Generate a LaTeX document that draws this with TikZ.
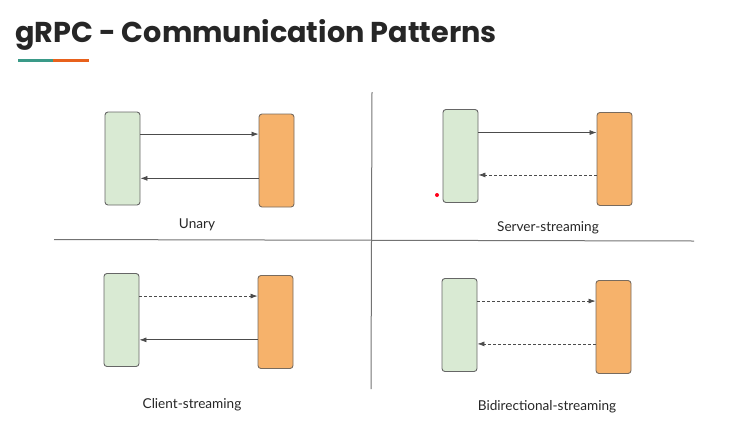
\documentclass[tikz,border=0pt]{standalone}
\usepackage{fontspec}
\setmainfont{Lato}
\newfontfamily\titlefont{Poppins}
\usetikzlibrary{calc,arrows.meta}
\definecolor{clientfill}{HTML}{D9EAD3}
\definecolor{serverfill}{HTML}{F6B26B}
\definecolor{boxline}{HTML}{666666}
\definecolor{teal}{HTML}{3A9A88}
\definecolor{rust}{HTML}{E8611C}
\tikzset{
  client/.style={draw=boxline, fill=clientfill, rounded corners=3pt, line width=0.9pt,
    minimum width=35pt, minimum height=93pt, inner sep=0pt},
  server/.style={client, fill=serverfill, draw=boxline!80!brown},
  call/.style={-{Latex[length=7pt,width=5pt]}, line width=0.7pt, draw=black!70},
  stream/.style={call, dash pattern=on 3pt off 2pt},
  pattern label/.style={font=\fontsize{13.6}{15}\selectfont, text=black!85},
  divider/.style={line width=1pt, draw=black!55}
}
\begin{document}
\begin{tikzpicture}[x=1pt, y=-1pt, line cap=butt]

  \useasboundingbox (0,0) rectangle (744,429);

  % title
  \node[anchor=base west, inner sep=0pt, font=\titlefont\bfseries\fontsize{28.7}{32}\selectfont, text=black!85] (title) at (15,42) {gRPC - Communication Patterns};
  \draw[teal, line width=3.5pt] (18,60.5) -- (53,60.5);
  \draw[rust, line width=3.5pt] (53,60.5) -- (89,60.5);

  % quadrant dividers
  \coordinate (hl) at (54,239.5);
  \coordinate (hr) at (694,241);
  \coordinate (vt) at (372,92);
  \coordinate (vb) at (371,389);
  \draw[divider] (hl) -- (hr);
  \draw[divider] (vt) -- (vb);

  % ---- unary ----
  \node[client] (cu) at (122.5,158.5) {};
  \node[server] (su) at (276.5,160.5) {};
  \coordinate (u1) at ($(cu.north east)!0.24!(cu.south east)$);
  \coordinate (u2) at ($(su.north west)!0.69!(su.south west)$);
  \draw[call] (u1) -- (u1 -| su.west);
  \draw[call] (u2) -- (u2 -| cu.east);
  \node[pattern label] (lu) at (197,225) {Unary};

  % ---- server streaming ----
  \node[client] (cs) at (460.5,156) {};
  \node[server] (ss) at (614.5,159) {};
  \coordinate (s1) at ($(cs.north east)!0.25!(cs.south east)$);
  \coordinate (s2) at ($(ss.north west)!0.67!(ss.south west)$);
  \draw[call] (s1) -- (s1 -| ss.west);
  \draw[stream] (s2) -- (s2 -| cs.east);
  \node[pattern label] (ls) at (548,228) {Server-streaming};
  \fill[red!90!magenta] (437,195) circle (2pt);

  % ---- client streaming ----
  \node[client] (cc) at (121.5,320) {};
  \node[server] (sc) at (275.5,322) {};
  \coordinate (c1) at ($(cc.north east)!0.245!(cc.south east)$);
  \coordinate (c2) at ($(sc.north west)!0.69!(sc.south west)$);
  \draw[stream] (c1) -- (c1 -| sc.west);
  \draw[call] (c2) -- (c2 -| cc.east);
  \node[pattern label] (lc) at (192,405) {Client-streaming};

  % ---- bidirectional streaming ----
  \node[client] (cb) at (459.5,325) {};
  \node[server] (sb) at (613.5,327) {};
  \coordinate (b1) at ($(cb.north east)!0.245!(cb.south east)$);
  \coordinate (b2) at ($(sb.north west)!0.68!(sb.south west)$);
  \draw[stream] (b1) -- (b1 -| sb.west);
  \draw[stream] (b2) -- (b2 -| cb.east);
  \node[pattern label] (lb) at (547,407) {Bidirectional-streaming};

\end{tikzpicture}
\end{document}
